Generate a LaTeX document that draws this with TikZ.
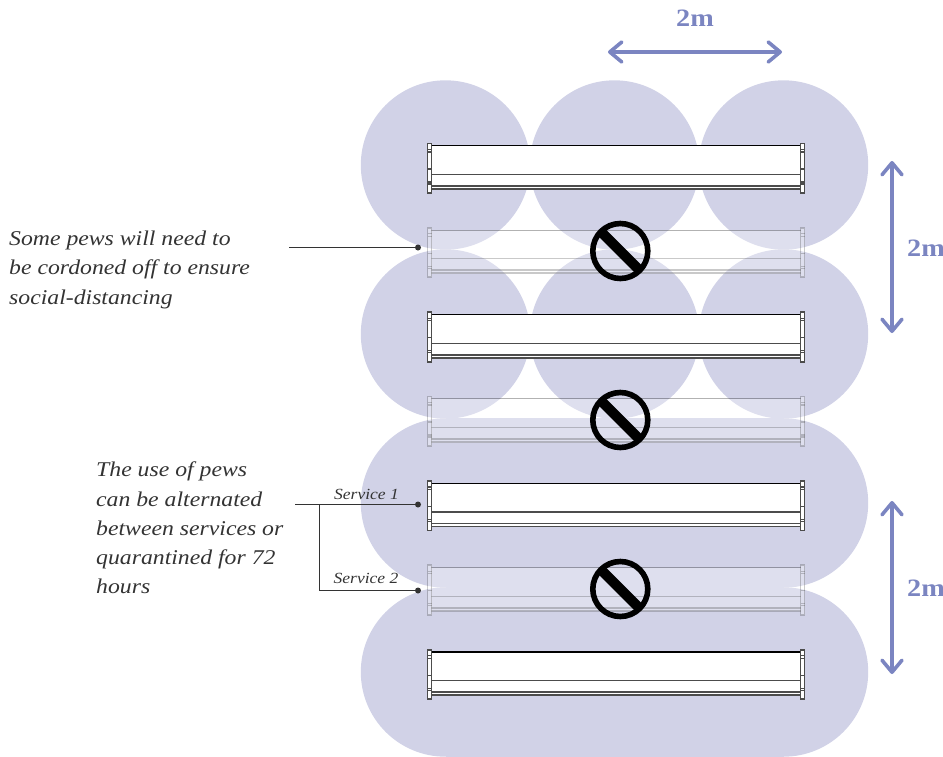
\documentclass[tikz,border=0pt]{standalone}
\usepackage{fontspec}
\usetikzlibrary{arrows.meta}
\newfontfamily\lora[FakeStretch=1.13]{Liberation Serif}
\definecolor{zone}{HTML}{D1D2E7}
\definecolor{dimblue}{HTML}{7B85C1}
\definecolor{ink}{HTML}{333333}
\tikzset{
  x=1pt,y=-1pt,
  note/.style={font=\lora\itshape\fontsize{21}{29.2}\selectfont,text=ink,align=left,anchor=north west,inner sep=0pt},
  svc/.style={font=\lora\itshape\fontsize{15.5}{18}\selectfont,text=ink,inner sep=0pt},
  dim/.style={font=\lora\bfseries\fontsize{25}{27}\selectfont,text=dimblue,inner sep=0pt},
  dimline/.style={draw=dimblue,line width=3.6pt,{Straight Barb[length=12pt,width=20pt,round]}-{Straight Barb[length=12pt,width=20pt,round]}},
  leader/.style={draw=ink,line width=1.1pt},
  dot/.style={circle,fill=ink,draw=none,minimum size=6pt,inner sep=0pt},
  pewl/.style={draw=black,line width=1.2pt},
  pewh/.style={draw=black!70,line width=1.7pt},
  ghost/.style={opacity=.3,transparency group},
  pew/.pic={
    \fill[white] (431,2.3) rectangle (801,46);
    \draw[pewl] (431,2.3) -- (801,2.3);
    \draw[pewl,black!70] (431,31) -- (801,31);
    \draw[pewh] (431,42.5) -- (801,42.5);
    \draw[pewh] (431,45.5) -- (801,45.5);
    \foreach \xa/\xb in {427.5/431.5,800.5/804.5}{
      \fill[white] (\xa,0) rectangle (\xb,49.5);
      \draw[pewh] (\xa,0) rectangle (\xb,49.5);
      \draw[pewl,black!70] (\xa,6) -- (\xb,6);
      \draw[pewl,black!70] (\xa,8.5) -- (\xb,8.5);
      \draw[pewl,black!70] (\xa,25.5) -- (\xb,25.5);
      \draw[pewl,black!70] (\xa,38.5) -- (\xb,38.5);
      \draw[pewl,black!70] (\xa,40.5) -- (\xb,40.5);
    }
  },
  noentry/.pic={
    \draw[black,line width=5.6pt] (0,0) circle (27.5);
    \draw[black,line width=10pt] (-20,-20) -- (20,20);
  }
}
\begin{document}
\begin{tikzpicture}
\useasboundingbox (0,0) rectangle (943,756);
\begin{scope}
\clip (0,0) rectangle (943,756);
% zones
\foreach \cx in {445.5,614.5,783.5}{
  \fill[zone] (\cx,165) circle (84.7);
  \fill[zone] (\cx,334) circle (84.7);
}
\foreach \cy in {503,672}{
  \fill[zone] (445.5,\cy) circle (84.7);
  \fill[zone] (783.5,\cy) circle (84.7);
  \fill[zone] (445.5,\cy-84.7) rectangle (783.5,\cy+84.7);
}
\end{scope}
% pews
\pic at (0,143.5) {pew};
\pic at (0,312.2) {pew};
\pic at (0,481) {pew};
\pic at (0,649.7) {pew};
\pic[ghost] at (0,227.8) {pew};
\pic[ghost] at (0,396.5) {pew};
\pic[ghost] at (0,565.3) {pew};
% no-entry signs
\pic at (620.3,251) {noentry};
\pic at (620.3,420) {noentry};
\pic at (620.3,589) {noentry};
% dimensions
\coordinate (ta) at (608,52);
\coordinate (tb) at (782,52);
\draw[dimline] (ta) -- (tb);
\node[dim] (tl) at (695,18) {2m};
\coordinate (ra) at (892,161);
\coordinate (rb) at (892,333);
\draw[dimline] (ra) -- (rb);
\node[dim] (rl) at (926,248) {2m};
\coordinate (sa) at (892,501);
\coordinate (sb) at (892,674);
\draw[dimline] (sa) -- (sb);
\node[dim] (sl) at (926,588) {2m};
% notes
\node[note] (n1) at (9,231) {Some pews will need to\\be cordoned off to ensure\\social-distancing};
\node[note] (n2) at (96,462) {The use of pews\\can be alternated\\between services or\\quarantined for 72\\hours};
% leaders
\coordinate (l1) at (289,247.5);
\node[dot] (d1) at (418,247.5) {};
\draw[leader] (l1) -- (d1.center);
\coordinate (l2) at (295,504.5);
\coordinate (br) at (319.5,504.5);
\node[dot] (d2) at (418,504.5) {};
\node[dot] (d3) at (418,590.5) {};
\draw[leader] (l2) -- (d2.center);
\draw[leader] (br) |- (d3.center);
\node[svc] (s1) at (366.5,494) {Service 1};
\node[svc] (s2) at (366,578.5) {Service 2};
\end{tikzpicture}
\end{document}
